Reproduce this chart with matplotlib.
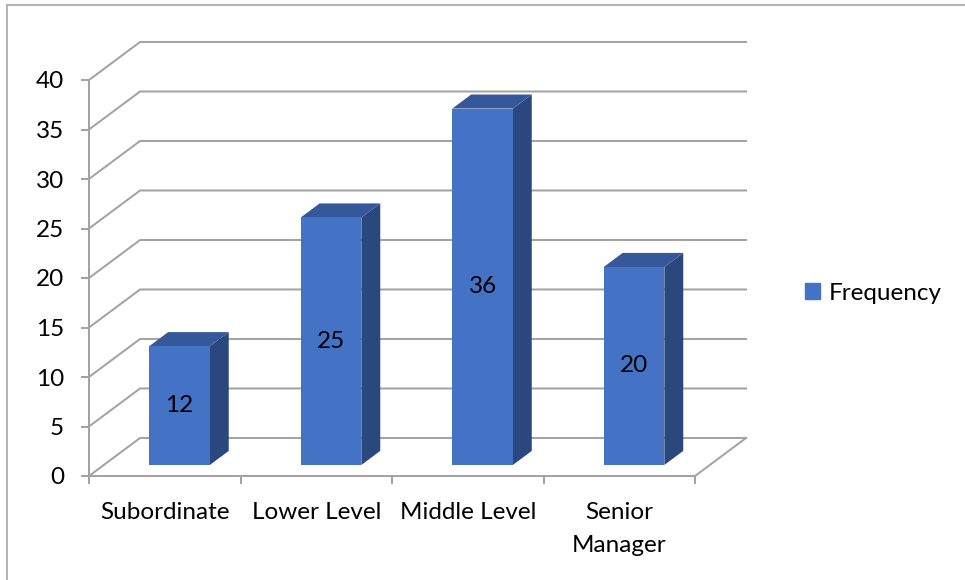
import matplotlib.pyplot as plt
from matplotlib.patches import Polygon, Patch
from matplotlib.lines import Line2D

categories = ["Subordinate", "Lower Level", "Middle Level", "Senior\nManager"]
frequency = [12, 25, 36, 20]
y_ticks = [0, 5, 10, 15, 20, 25, 30, 35, 40]

plt.rcParams["font.family"] = ["Lato", "DejaVu Sans"]
fs = 17.5

W, H = 965, 580
fig = plt.figure(figsize=(W / 100, H / 100), dpi=100)

# front plane of the 3d box: one unit per category along x, values along y
ax = fig.add_axes([89 / W, 104 / H, 4.4 * 151.5 / W, 44 * 9.9 / H])
ax.set_xlim(0, 4.4)
ax.set_ylim(0, 44)

# oblique depth offset (full depth of the box)
kx, ky = 0.337, 3.84
grid_col = "#a3a3a3"
lw = 1.45


def proj(x, y, d):
    return x + d * kx, y + d * ky


# walls and floor
for v in y_ticks:
    ax.plot([0, kx, len(categories) + kx], [v, v + ky, v + ky],
            color=grid_col, lw=lw, zorder=1, clip_on=False)
ax.plot([0, len(categories), len(categories) + kx], [0, 0, ky],
        color=grid_col, lw=lw, zorder=1, clip_on=False)

# axes lines and ticks
for s in ["top", "right"]:
    ax.spines[s].set_visible(False)
ax.spines["left"].set_bounds(0, 40)
ax.spines["bottom"].set_bounds(0, len(categories))
for s in ["left", "bottom"]:
    ax.spines[s].set_color(grid_col)
    ax.spines[s].set_linewidth(lw)
ax.set_yticks(y_ticks)
ax.tick_params(axis="y", length=6, width=lw, color=grid_col, pad=12, labelsize=fs)
ax.set_xticks(range(len(categories) + 1))
ax.set_xticklabels([])
ax.tick_params(axis="x", which="major", length=6, width=lw, color=grid_col)
ax.set_xticks([i + 0.5 for i in range(len(categories))], minor=True)
ax.set_xticklabels(categories, minor=True, fontsize=fs, linespacing=1.7)
ax.tick_params(axis="x", which="minor", length=0, pad=19)

# 3d columns
front_col, top_col, side_col = "#4472C4", "#34589A", "#2A487E"
bw = 0.40
df, db = 0.29, 0.66
for i, v in enumerate(frequency):
    x0 = i + 0.5 - bw / 2
    x1 = x0 + bw
    side = [proj(x1, 0, df), proj(x1, 0, db), proj(x1, v, db), proj(x1, v, df)]
    top = [proj(x0, v, df), proj(x1, v, df), proj(x1, v, db), proj(x0, v, db)]
    front = [proj(x0, 0, df), proj(x1, 0, df), proj(x1, v, df), proj(x0, v, df)]
    ax.add_patch(Polygon(side, closed=True, color=side_col, lw=0, zorder=3))
    ax.add_patch(Polygon(top, closed=True, color=top_col, lw=0, zorder=3))
    ax.add_patch(Polygon(front, closed=True, color=front_col, lw=0, zorder=4))
    tx, ty = proj(i + 0.5, v / 2, df)
    ax.text(tx, ty, str(v), ha="center", va="center", fontsize=fs, zorder=5)

fig.legend(handles=[Patch(color=front_col, label="Frequency")],
           loc="center left", bbox_to_anchor=(805 / W, 1 - 293 / H),
           frameon=False, fontsize=fs, handlelength=0.62, handleheight=0.62,
           handletextpad=0.35, borderpad=0, borderaxespad=0)

# chart area border (left and top edges)
fig.add_artist(Line2D([6.5 / W, 6.5 / W], [0, 1 - 5 / H], color="#b4b4b4", lw=1.5))
fig.add_artist(Line2D([6.5 / W, 1], [1 - 5 / H, 1 - 5 / H], color="#b4b4b4", lw=1.5))

fig.savefig("out.png", dpi=100)
